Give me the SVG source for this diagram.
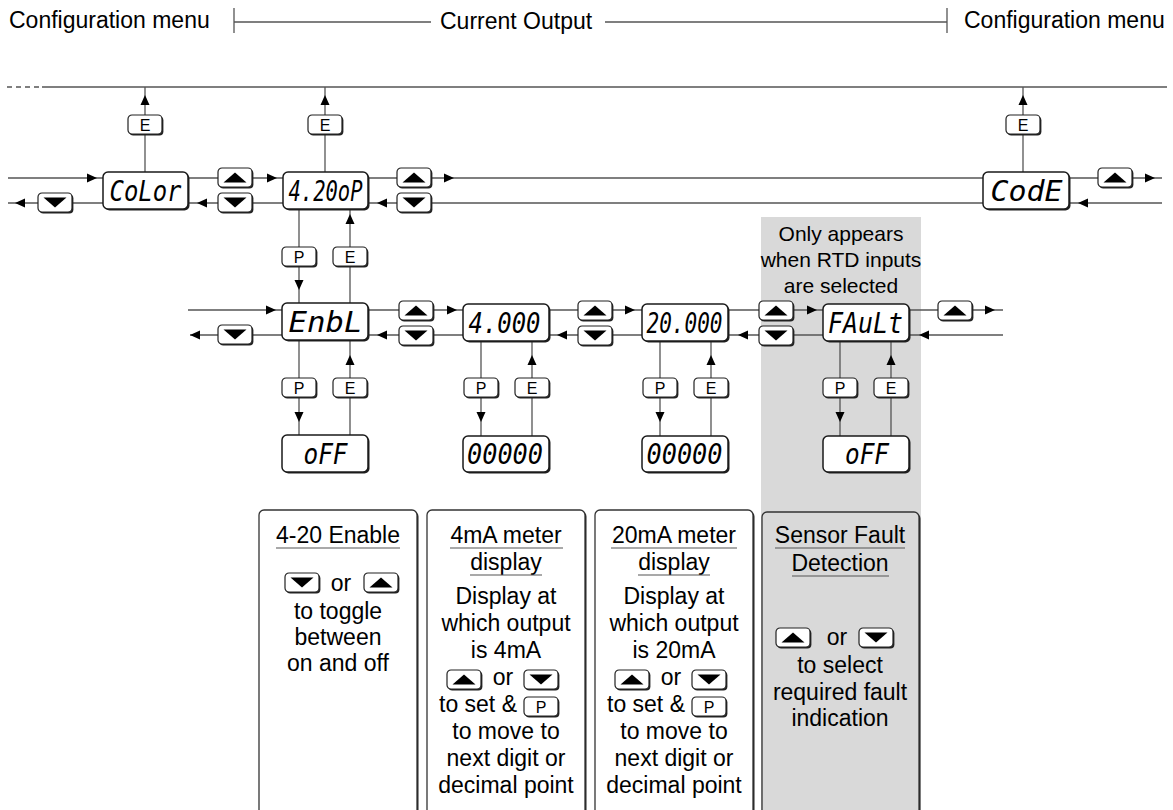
<svg xmlns="http://www.w3.org/2000/svg" xmlns:xlink="http://www.w3.org/1999/xlink" width="1173" height="810" viewBox="0 0 1173 810">
<style>
.ln{stroke:#555;stroke-width:1.3;fill:none}
.ul{stroke:#555;stroke-width:1.2;fill:none}
.sh{fill:#222}
.dp{fill:#fff;stroke:#1a1a1a;stroke-width:1.5}
.kb{fill:#fff;stroke:#222;stroke-width:1.2}
.seg{font-family:"DejaVu Sans Mono",monospace;font-size:29px;font-style:oblique;fill:#000;text-anchor:middle}
.t{font-family:"Liberation Sans",Arial,sans-serif;font-size:23px;fill:#000;text-anchor:middle}
.h{font-family:"Liberation Sans",Arial,sans-serif;font-size:23px;fill:#000}
.n{font-family:"Liberation Sans",Arial,sans-serif;font-size:21px;fill:#000;text-anchor:middle}
.k{font-family:"Liberation Sans",Arial,sans-serif;font-size:16px;fill:#000;text-anchor:middle}
.bx{fill:#fff;stroke:#333;stroke-width:1.3}
</style>
<defs>
<path id="ar" d="M0 0 L-10 -4.5 L-10 4.5 Z" fill="#000"/>
<g id="kB"><rect x="1.4" y="1.4" width="34" height="19" rx="4" class="sh"/><rect width="34" height="19" rx="4" class="kb"/></g>
<g id="kU"><use xlink:href="#kB"/><path d="M5.5 14.5 L17 4.5 L28.5 14.5 Z" fill="#000"/></g>
<g id="kD"><use xlink:href="#kB"/><path d="M5.5 4.5 L28.5 4.5 L17 14.5 Z" fill="#000"/></g>
</defs>
<rect width="1173" height="810" fill="#fff"/>
<rect x="761" y="217" width="160" height="593" fill="#d9d9d9"/>

<g id="header">
<text class="h" x="9" y="28">Configuration menu</text>
<line class="ln" x1="234" y1="8" x2="234" y2="33"/>
<line class="ln" x1="234" y1="22" x2="431" y2="22"/>
<text class="h" x="440" y="29">Current Output</text>
<line class="ln" x1="605" y1="22" x2="947" y2="22"/>
<line class="ln" x1="947" y1="8" x2="947" y2="33"/>
<text class="h" x="964" y="28">Configuration menu</text>
</g>

<g id="connectors">
<line class="ln" x1="7" y1="87" x2="42" y2="87" stroke-dasharray="5 4"/>
<line class="ln" x1="42" y1="87" x2="1167" y2="87"/>
<line class="ln" x1="145" y1="87" x2="145" y2="172"/>
<line class="ln" x1="325" y1="87" x2="325" y2="172"/>
<line class="ln" x1="1023" y1="87" x2="1023" y2="172"/>
<path class="ln" d="M8 178H103M188 178H283M368 178H983M1069 178H1162"/>
<path class="ln" d="M8 203H103M188 203H283M368 203H983M1069 203H1162"/>
<path class="ln" d="M299 209V303M350 209V303"/>
<path class="ln" d="M188 310H282M368 310H463M549 310H642M728 310H823M908 310H1003"/>
<path class="ln" d="M190 335H282M368 335H463M549 335H642M728 335H823M908 335H1003"/>
<path class="ln" d="M299 340V435M350 340V435M481 341V436M532 341V436M660 341V436M711 341V436M840 341V436M891 341V436"/>
<use xlink:href="#ar" transform="translate(145,95) rotate(-90)"/>
<use xlink:href="#ar" transform="translate(325,95) rotate(-90)"/>
<use xlink:href="#ar" transform="translate(1023,95) rotate(-90)"/>
<use xlink:href="#ar" transform="translate(97,178)"/>
<use xlink:href="#ar" transform="translate(15,203) rotate(180)"/>
<use xlink:href="#ar" transform="translate(277,178)"/>
<use xlink:href="#ar" transform="translate(197,203) rotate(180)"/>
<use xlink:href="#ar" transform="translate(454,178)"/>
<use xlink:href="#ar" transform="translate(377,203) rotate(180)"/>
<use xlink:href="#ar" transform="translate(1155,178)"/>
<use xlink:href="#ar" transform="translate(1078,203) rotate(180)"/>
<use xlink:href="#ar" transform="translate(299,290) rotate(90)"/>
<use xlink:href="#ar" transform="translate(350,214) rotate(-90)"/>
<use xlink:href="#ar" transform="translate(276,310)"/>
<use xlink:href="#ar" transform="translate(190,335) rotate(180)"/>
<use xlink:href="#ar" transform="translate(457,310)"/>
<use xlink:href="#ar" transform="translate(377,335) rotate(180)"/>
<use xlink:href="#ar" transform="translate(635,310)"/>
<use xlink:href="#ar" transform="translate(557,335) rotate(180)"/>
<use xlink:href="#ar" transform="translate(817,310)"/>
<use xlink:href="#ar" transform="translate(738,335) rotate(180)"/>
<use xlink:href="#ar" transform="translate(995,310)"/>
<use xlink:href="#ar" transform="translate(919,335) rotate(180)"/>
<use xlink:href="#ar" transform="translate(299,422) rotate(90)"/>
<use xlink:href="#ar" transform="translate(350,355) rotate(-90)"/>
<use xlink:href="#ar" transform="translate(481,422) rotate(90)"/>
<use xlink:href="#ar" transform="translate(532,355) rotate(-90)"/>
<use xlink:href="#ar" transform="translate(660,422) rotate(90)"/>
<use xlink:href="#ar" transform="translate(711,355) rotate(-90)"/>
<use xlink:href="#ar" transform="translate(840,422) rotate(90)"/>
<use xlink:href="#ar" transform="translate(891,355) rotate(-90)"/>
</g>

<g id="keys">
<use xlink:href="#kB" x="128" y="115"/><text class="k" x="145" y="131">E</text>
<use xlink:href="#kB" x="308" y="115"/><text class="k" x="325" y="131">E</text>
<use xlink:href="#kB" x="1006" y="115"/><text class="k" x="1023" y="131">E</text>
<use xlink:href="#kD" x="38" y="193"/>
<use xlink:href="#kU" x="218" y="168"/><use xlink:href="#kD" x="218" y="193"/>
<use xlink:href="#kU" x="397" y="168"/><use xlink:href="#kD" x="397" y="193"/>
<use xlink:href="#kU" x="1098" y="168"/>
<use xlink:href="#kB" x="282" y="247"/><text class="k" x="299" y="263">P</text>
<use xlink:href="#kB" x="333" y="247"/><text class="k" x="350" y="263">E</text>
<use xlink:href="#kD" x="218" y="325"/>
<use xlink:href="#kU" x="399" y="301"/><use xlink:href="#kD" x="399" y="326"/>
<use xlink:href="#kU" x="578" y="301"/><use xlink:href="#kD" x="578" y="326"/>
<use xlink:href="#kU" x="759" y="301"/><use xlink:href="#kD" x="759" y="326"/>
<use xlink:href="#kU" x="938" y="301"/>
<use xlink:href="#kB" x="282" y="378"/><text class="k" x="299" y="394">P</text>
<use xlink:href="#kB" x="333" y="378"/><text class="k" x="350" y="394">E</text>
<use xlink:href="#kB" x="464" y="378"/><text class="k" x="481" y="394">P</text>
<use xlink:href="#kB" x="515" y="378"/><text class="k" x="532" y="394">E</text>
<use xlink:href="#kB" x="643" y="378"/><text class="k" x="660" y="394">P</text>
<use xlink:href="#kB" x="694" y="378"/><text class="k" x="711" y="394">E</text>
<use xlink:href="#kB" x="823" y="378"/><text class="k" x="840" y="394">P</text>
<use xlink:href="#kB" x="874" y="378"/><text class="k" x="891" y="394">E</text>
</g>

<g id="node-color"><rect x="104.5" y="173.5" width="85" height="37" rx="5" class="sh"/><rect x="103" y="172" width="85" height="37" rx="5" class="dp"/><text class="seg" x="145.5" y="201" textLength="72" lengthAdjust="spacingAndGlyphs">CoLor</text></g>
<g id="node-420op"><rect x="284.5" y="173.5" width="85" height="37" rx="5" class="sh"/><rect x="283" y="172" width="85" height="37" rx="5" class="dp"/><text class="seg" x="325.5" y="201" textLength="74" lengthAdjust="spacingAndGlyphs">4.20oP</text></g>
<g id="node-code"><rect x="984.5" y="173.5" width="86" height="37" rx="5" class="sh"/><rect x="983" y="172" width="86" height="37" rx="5" class="dp"/><text class="seg" x="1026.5" y="201" textLength="72" lengthAdjust="spacingAndGlyphs">CodE</text></g>
<g id="node-enbl"><rect x="283.5" y="304.5" width="86" height="37" rx="5" class="sh"/><rect x="282" y="303" width="86" height="37" rx="5" class="dp"/><text class="seg" x="325.5" y="332" textLength="74" lengthAdjust="spacingAndGlyphs">EnbL</text></g>
<g id="node-4000"><rect x="464.5" y="305.5" width="86" height="37" rx="5" class="sh"/><rect x="463" y="304" width="86" height="37" rx="5" class="dp"/><text class="seg" x="504.5" y="333" textLength="72" lengthAdjust="spacingAndGlyphs">4.000</text></g>
<g id="node-20000"><rect x="643.5" y="305.5" width="86" height="37" rx="5" class="sh"/><rect x="642" y="304" width="86" height="37" rx="5" class="dp"/><text class="seg" x="684.5" y="333" textLength="76" lengthAdjust="spacingAndGlyphs">20.000</text></g>
<g id="node-fault"><rect x="824.5" y="305.5" width="86" height="37" rx="5" class="sh"/><rect x="823" y="304" width="86" height="37" rx="5" class="dp"/><text class="seg" x="865.5" y="333" textLength="75" lengthAdjust="spacingAndGlyphs">FAuLt</text></g>
<g id="node-off1"><rect x="283.5" y="436.5" width="86" height="37" rx="5" class="sh"/><rect x="282" y="435" width="86" height="37" rx="5" class="dp"/><text class="seg" x="325.5" y="464" textLength="44" lengthAdjust="spacingAndGlyphs">oFF</text></g>
<g id="node-00000a"><rect x="464.5" y="437.5" width="86" height="36" rx="5" class="sh"/><rect x="463" y="436" width="86" height="36" rx="5" class="dp"/><text class="seg" x="505" y="464" textLength="76" lengthAdjust="spacingAndGlyphs">00000</text></g>
<g id="node-00000b"><rect x="643.5" y="437.5" width="86" height="36" rx="5" class="sh"/><rect x="642" y="436" width="86" height="36" rx="5" class="dp"/><text class="seg" x="684.5" y="464" textLength="76" lengthAdjust="spacingAndGlyphs">00000</text></g>
<g id="node-off2"><rect x="824.5" y="437.5" width="86" height="36" rx="5" class="sh"/><rect x="823" y="436" width="86" height="36" rx="5" class="dp"/><text class="seg" x="867" y="464" textLength="44" lengthAdjust="spacingAndGlyphs">oFF</text></g>

<g id="note-rtd">
<text class="n" x="841" y="241">Only appears</text>
<text class="n" x="841" y="267">when RTD inputs</text>
<text class="n" x="841" y="293">are selected</text>
</g>

<g id="box-enable">
<rect x="260.5" y="511.5" width="158" height="320" rx="5" class="sh"/>
<rect x="259" y="510" width="158" height="320" rx="5" class="bx"/>
<text class="t" x="338" y="543">4-20 Enable</text>
<line class="ul" x1="276" y1="548" x2="400" y2="548"/>
<use xlink:href="#kD" x="285" y="573"/><text class="t" x="341" y="591">or</text><use xlink:href="#kU" x="364" y="573"/>
<text class="t" x="338" y="619">to toggle</text>
<text class="t" x="338" y="645">between</text>
<text class="t" x="338" y="671">on and off</text>
</g>

<g id="box-4ma">
<rect x="428.5" y="511.5" width="158" height="320" rx="5" class="sh"/>
<rect x="427" y="510" width="158" height="320" rx="5" class="bx"/>
<text class="t" x="506" y="543">4mA meter</text>
<line class="ul" x1="450" y1="548" x2="563" y2="548"/>
<text class="t" x="506" y="570">display</text>
<line class="ul" x1="470" y1="575" x2="542" y2="575"/>
<text class="t" x="506" y="604">Display at</text>
<text class="t" x="506" y="631">which output</text>
<text class="t" x="506" y="658">is 4mA</text>
<use xlink:href="#kU" x="447" y="670"/><text class="t" x="503" y="685">or</text><use xlink:href="#kD" x="524" y="670"/>
<text class="h" x="439" y="712">to set &amp;</text><use xlink:href="#kB" x="524" y="697"/><text class="k" x="541" y="713">P</text>
<text class="t" x="506" y="739">to move to</text>
<text class="t" x="506" y="766">next digit or</text>
<text class="t" x="506" y="793">decimal point</text>
</g>

<g id="box-20ma">
<rect x="596.5" y="511.5" width="158" height="320" rx="5" class="sh"/>
<rect x="595" y="510" width="158" height="320" rx="5" class="bx"/>
<text class="t" x="674" y="543">20mA meter</text>
<line class="ul" x1="611" y1="548" x2="737" y2="548"/>
<text class="t" x="674" y="570">display</text>
<line class="ul" x1="638" y1="575" x2="710" y2="575"/>
<text class="t" x="674" y="604">Display at</text>
<text class="t" x="674" y="631">which output</text>
<text class="t" x="674" y="658">is 20mA</text>
<use xlink:href="#kU" x="615" y="670"/><text class="t" x="671" y="685">or</text><use xlink:href="#kD" x="692" y="670"/>
<text class="h" x="607" y="712">to set &amp;</text><use xlink:href="#kB" x="692" y="697"/><text class="k" x="709" y="713">P</text>
<text class="t" x="674" y="739">to move to</text>
<text class="t" x="674" y="766">next digit or</text>
<text class="t" x="674" y="793">decimal point</text>
</g>

<g id="box-fault">
<rect x="763.5" y="513.5" width="157" height="320" rx="5" class="sh"/>
<rect x="762" y="512" width="157" height="320" rx="5" fill="#d9d9d9" stroke="#333" stroke-width="1.3"/>
<text class="t" x="840" y="543">Sensor Fault</text>
<line class="ul" x1="775" y1="548" x2="905" y2="548"/>
<text class="t" x="840" y="571">Detection</text>
<line class="ul" x1="792" y1="576" x2="889" y2="576"/>
<use xlink:href="#kU" x="776" y="628"/><text class="t" x="837" y="645">or</text><use xlink:href="#kD" x="859" y="628"/>
<text class="t" x="840" y="673">to select</text>
<text class="t" x="840" y="700">required fault</text>
<text class="t" x="840" y="726">indication</text>
</g>
</svg>
